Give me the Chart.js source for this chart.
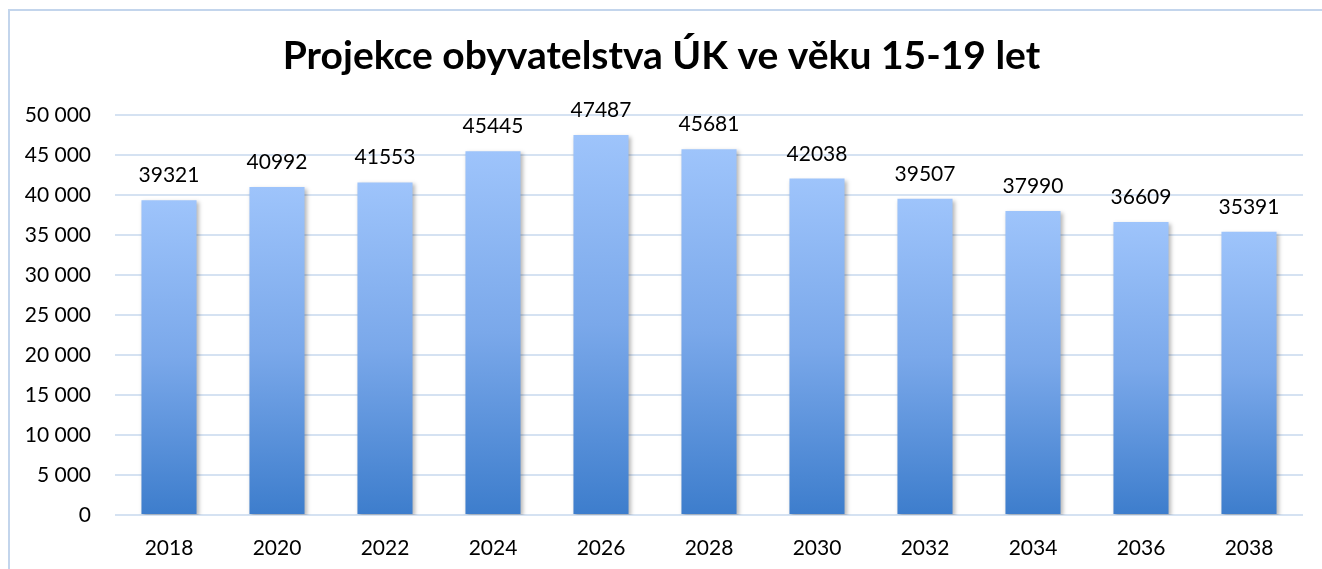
<!DOCTYPE html>
<html>
<head>
<meta charset="utf-8">
<script src="https://cdn.jsdelivr.net/npm/chart.js@4"></script>
<style>
  html, body { margin: 0; padding: 0; background: #fff; overflow: hidden; }
  #frame {
    position: absolute; left: 8px; top: 9px; width: 1400px; height: 700px;
    border: 2px solid #c3d5ec;
  }
  #wrap { position: absolute; left: 0; top: 0; width: 1322px; height: 569px; }
</style>
</head>
<body>
<div id="frame"></div>
<div id="wrap"><canvas id="popChart"></canvas></div>
<script>
// Projekce obyvatelstva - data
const years = ['2018', '2020', '2022', '2024', '2026', '2028', '2030', '2032', '2034', '2036', '2038'];
const population = [39321, 40992, 41553, 45445, 47487, 45681, 42038, 39507, 37990, 36609, 35391];
const yTicks = [0, 5000, 10000, 15000, 20000, 25000, 30000, 35000, 40000, 45000, 50000];

const FONT = 'Lato';

function fmtThousands(v) {
  return String(v).replace(/\B(?=(\d{3})+(?!\d))/g, ' ');
}

// Gradient per bar: light on top, darker at the base
function barGradient(ctx) {
  const chart = ctx.chart;
  if (!chart.chartArea || ctx.type !== 'data') return '#7aa9ea';
  const y = chart.scales.y;
  const top = y.getPixelForValue(ctx.raw);
  const base = y.getPixelForValue(0);
  const g = chart.ctx.createLinearGradient(0, top, 0, base);
  g.addColorStop(0, '#9ec4fb');
  g.addColorStop(0.5, '#7aa8ea');
  g.addColorStop(1, '#3d7dcc');
  return g;
}

// soft shadow under bars
const barShadow = {
  id: 'barShadow',
  beforeDatasetsDraw(chart) {
    const c = chart.ctx;
    c.save();
    c.shadowColor = 'rgba(0, 0, 0, 0.28)';
    c.shadowBlur = 4;
    c.shadowOffsetX = 2;
    c.shadowOffsetY = 2;
  },
  afterDatasetsDraw(chart) {
    chart.ctx.restore();
  }
};

// value labels above bars
const valueLabels = {
  id: 'valueLabels',
  afterDatasetsDraw(chart) {
    const c = chart.ctx;
    const meta = chart.getDatasetMeta(0);
    c.save();
    c.font = '21px ' + FONT;
    c.fillStyle = '#000';
    c.textAlign = 'center';
    c.textBaseline = 'alphabetic';
    meta.data.forEach((bar, i) => {
      c.fillText(String(population[i]), bar.x, bar.y - 18);
    });
    c.restore();
  }
};

const ctx = document.getElementById('popChart');
new Chart(ctx, {
  type: 'bar',
  data: {
    labels: years,
    datasets: [{
      label: 'Obyvatelstvo 15-19 let',
      data: population,
      backgroundColor: barGradient,
      borderWidth: 0,
      barPercentage: 0.51,
      categoryPercentage: 1
    }]
  },
  options: {
    responsive: true,
    maintainAspectRatio: false,
    animation: false,
    layout: { padding: { left: 20, right: 19, top: 0, bottom: 0 } },
    plugins: {
      legend: { display: false },
      tooltip: { enabled: false },
      title: {
        display: true,
        text: 'Projekce obyvatelstva ÚK ve věku 15-19 let',
        color: '#000',
        font: { family: FONT, size: 39, weight: 'bold' },
        padding: { top: 33, bottom: 35 }
      }
    },
    scales: {
      x: {
        afterFit(scale) { scale.height = 54; },
        grid: { display: false },
        border: { display: false },
        ticks: { color: '#000', font: { family: FONT, size: 21 }, padding: 13, maxRotation: 0 }
      },
      y: {
        min: 0,
        max: 50000,
        afterFit(scale) { scale.width = 95; },
        afterBuildTicks(scale) { scale.ticks = yTicks.map(v => ({ value: v })); },
        grid: { color: '#d5e2f2', lineWidth: 2, drawTicks: false },
        border: { display: false },
        ticks: {
          color: '#000',
          font: { family: FONT, size: 21 },
          padding: 24,
          callback: v => fmtThousands(v)
        }
      }
    }
  },
  plugins: [barShadow, valueLabels]
});
</script>
</body>
</html>
